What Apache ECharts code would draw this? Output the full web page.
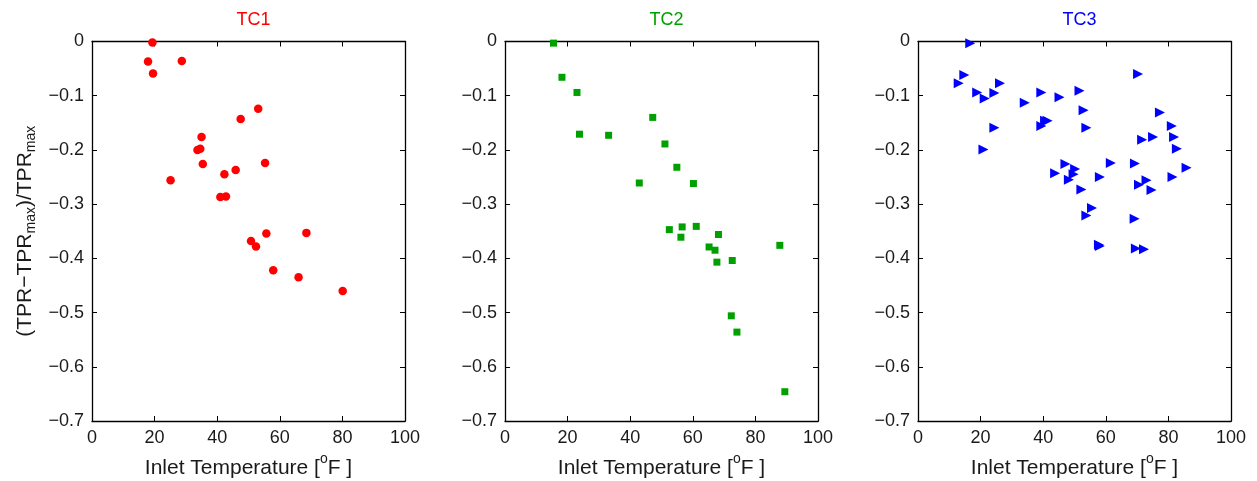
<!DOCTYPE html>
<html>
<head>
<meta charset="utf-8">
<script src="https://cdn.jsdelivr.net/npm/echarts@6/dist/echarts.min.js"></script>
<style>html,body{margin:0;padding:0;background:#fff}#c{width:1257px;height:481px}</style>
</head>
<body>
<div id="c"></div>
<script>
const titles = ['TC1', 'TC2', 'TC3'];
const colors = ['#ff0000', '#00a000', '#0000ff'];
const xTicks = [0, 20, 40, 60, 80, 100];
const yTicks = [0, -0.1, -0.2, -0.3, -0.4, -0.5, -0.6, -0.7];

const tc1 = [
  [19.3, -0.002], [17.9, -0.037], [28.7, -0.036], [19.5, -0.059], [53.1, -0.124],
  [47.5, -0.143], [35.0, -0.176], [33.7, -0.200], [34.6, -0.198], [35.4, -0.226],
  [55.3, -0.224], [45.9, -0.237], [42.3, -0.245], [25.1, -0.256], [41.0, -0.287],
  [42.8, -0.286], [55.7, -0.354], [68.5, -0.353], [50.8, -0.368], [52.4, -0.378],
  [57.9, -0.422], [66.0, -0.435], [80.1, -0.460]
];
const tc2 = [
  [15.5, -0.003], [18.2, -0.066], [23.0, -0.094], [23.8, -0.171], [33.1, -0.173],
  [47.2, -0.140], [51.1, -0.189], [54.9, -0.232], [42.9, -0.261], [60.2, -0.262],
  [52.5, -0.347], [56.6, -0.342], [61.1, -0.341], [56.2, -0.361], [68.2, -0.356],
  [65.2, -0.379], [67.1, -0.385], [67.7, -0.407], [72.6, -0.404], [87.8, -0.376],
  [72.3, -0.506], [74.1, -0.536], [89.4, -0.646]
];
const tc3 = [
  [16.7, -0.003], [14.8, -0.062], [13.0, -0.077], [26.2, -0.077], [18.9, -0.094],
  [21.3, -0.105], [24.4, -0.095], [24.4, -0.159], [20.9, -0.199], [34.1, -0.113],
  [39.4, -0.094], [45.2, -0.103], [51.6, -0.091], [52.9, -0.127], [53.8, -0.159],
  [39.4, -0.156], [40.6, -0.146], [41.4, -0.146], [70.3, -0.060], [77.3, -0.131],
  [81.1, -0.156], [81.8, -0.176], [75.1, -0.176], [71.6, -0.181], [82.7, -0.198],
  [85.8, -0.233], [81.3, -0.250], [69.3, -0.225], [61.6, -0.224], [58.1, -0.250],
  [70.6, -0.264], [73.0, -0.256], [74.6, -0.274], [47.1, -0.226], [43.8, -0.243],
  [50.2, -0.235], [49.7, -0.245], [48.2, -0.255], [52.2, -0.273], [55.6, -0.307],
  [53.8, -0.321], [69.2, -0.327], [57.8, -0.375], [58.1, -0.377], [69.6, -0.382],
  [72.2, -0.383]
];
const seriesData = [tc1, tc2, tc3];
const symbols = ['circle', 'rect', 'triangle'];
const symbolSizes = [8.5, 7, 10];
const symbolRotate = [0, 0, -90];

const gridLefts = [92, 505, 918];
const gridWidth = 313;
const FONT = 'Liberation Sans, Arial, Helvetica, sans-serif';
const black = '#000';
const textCol = '#1a1a1a';

const chart = echarts.init(document.getElementById('c'));
const grids = [], xAxes = [], yAxes = [], series = [], titleOpts = [];
const fmtY = v => (Math.abs(v) < 1e-9 ? '0' : String(Math.round(v * 10) / 10).replace('-', '\u2212'));

for (let i = 0; i < 3; i++) {
  grids.push({ left: gridLefts[i], width: gridWidth, top: 41.5, height: 379.5, containLabel: false, outerBoundsMode: 'none' });
  titleOpts.push({
    text: titles[i], left: gridLefts[i] + gridWidth / 2, top: 6, textAlign: 'center',
    textStyle: { color: colors[i], fontSize: 18, fontWeight: 'normal', fontFamily: FONT }
  });
  const axLine = { show: true, onZero: false, lineStyle: { color: black, width: 1.3 } };
  const tick = { show: true, inside: true, length: 5, lineStyle: { color: black, width: 1 } };
  xAxes.push({
    type: 'value', gridIndex: i, min: 0, max: 100, interval: 20, position: 'bottom',
    axisLine: axLine, axisTick: tick, splitLine: { show: false },
    axisLabel: { color: textCol, fontSize: 18, fontFamily: FONT, margin: 8 },
    name: '{n|Inlet Temperature [}{s|o}{n|F ]}', nameLocation: 'middle', nameGap: 30,
    nameTextStyle: {
      fontFamily: FONT,
      rich: {
        n: { fontSize: 21, color: textCol, fontFamily: FONT, lineHeight: 27, verticalAlign: 'bottom' },
        s: { fontSize: 14, color: textCol, fontFamily: FONT, lineHeight: 14, verticalAlign: 'top' }
      }
    }
  });
  xAxes.push({
    type: 'value', gridIndex: i, min: 0, max: 100, interval: 20, position: 'top',
    axisLine: axLine, axisTick: tick, splitLine: { show: false }, axisLabel: { show: false }
  });
  const yMain = {
    type: 'value', gridIndex: i, min: -0.7, max: 0, interval: 0.1, position: 'left',
    axisLine: axLine, axisTick: tick, splitLine: { show: false },
    axisLabel: { color: textCol, fontSize: 18, fontFamily: FONT, margin: 8, padding: [0, 0, 6, 0], formatter: fmtY }
  };
  if (i === 0) {
    yMain.name = '{n|(TPR\u2212TPR}{s|max}{n|)/TPR}{s|max}';
    yMain.nameLocation = 'middle';
    yMain.nameGap = 54;
    yMain.nameRotate = 90;
    yMain.nameTextStyle = {
      fontFamily: FONT,
      rich: {
        n: { fontSize: 21, color: textCol, fontFamily: FONT, lineHeight: 26 },
        s: { fontSize: 14, color: textCol, fontFamily: FONT, lineHeight: 14, verticalAlign: 'bottom' }
      }
    };
  }
  yAxes.push(yMain);
  yAxes.push({
    type: 'value', gridIndex: i, min: -0.7, max: 0, interval: 0.1, position: 'right',
    axisLine: axLine, axisTick: tick, splitLine: { show: false }, axisLabel: { show: false }
  });
  series.push({
    type: 'scatter', xAxisIndex: i * 2, yAxisIndex: i * 2, data: seriesData[i],
    symbol: symbols[i], symbolSize: symbolSizes[i], symbolRotate: symbolRotate[i],
    itemStyle: { color: colors[i], opacity: 1 }, silent: true, animation: false
  });
}

chart.setOption({
  backgroundColor: '#fff',
  animation: false,
  title: titleOpts,
  grid: grids,
  xAxis: xAxes,
  yAxis: yAxes,
  series: series
});
</script>
</body>
</html>
